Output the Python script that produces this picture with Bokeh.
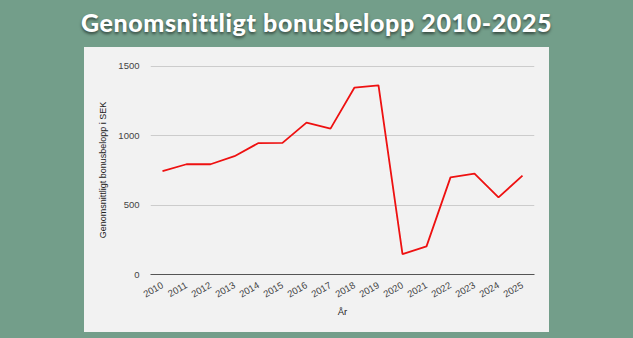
import math
from bokeh.plotting import figure
from bokeh.models import Range1d, FixedTicker, Div, Column
from bokeh.embed import file_html
from bokeh.resources import INLINE

years = [str(y) for y in range(2010, 2026)]
values = [745, 795, 795, 853, 948, 949, 1095, 1052, 1348, 1363, 147, 203, 700, 728, 556, 713]
y_ticks = [0, 500, 1000, 1500]

title_text = "Genomsnittligt bonusbelopp 2010-2025"
y_label = "Genomsnittligt bonusbelopp i SEK"
x_label = "År"

GREEN = "#739e8a"
PANEL = "#f2f2f2"

p = figure(width=465, height=285, x_range=years, y_range=Range1d(0, 1507),
           output_backend="svg", toolbar_location=None,
           min_border_left=66, min_border_right=15,
           min_border_top=18, min_border_bottom=58,
           margin=(0, 84, 6, 84),
           styles={"background-color": PANEL})
p.border_fill_color = PANEL
p.background_fill_color = PANEL
p.outline_line_color = None

p.line(x=years, y=values, line_color="#ee1111", line_width=1.8)

p.xgrid.grid_line_color = None
p.ygrid.grid_line_color = "#cccccc"
p.ygrid.grid_line_width = 1
p.yaxis.ticker = FixedTicker(ticks=y_ticks)

for ax in p.yaxis:
    ax.axis_line_color = None
    ax.major_tick_line_color = None
    ax.minor_tick_line_color = None
    ax.major_label_text_font = "Liberation Sans"
    ax.major_label_text_font_size = "9.5px"
    ax.major_label_text_color = "#444444"
    ax.major_label_standoff = 5
    ax.axis_label = y_label
    ax.axis_label_text_font = "Liberation Sans"
    ax.axis_label_text_font_size = "9px"
    ax.axis_label_text_font_style = "normal"
    ax.axis_label_text_color = "#222222"
    ax.axis_label_standoff = 7

for ax in p.xaxis:
    ax.axis_line_color = "#555555"
    ax.axis_line_width = 1
    ax.major_tick_line_color = None
    ax.minor_tick_line_color = None
    ax.major_label_orientation = math.pi / 6
    ax.major_label_text_font = "Liberation Sans"
    ax.major_label_text_font_size = "9.5px"
    ax.major_label_text_color = "#444444"
    ax.major_label_standoff = 4
    ax.axis_label = x_label
    ax.axis_label_text_font = "Liberation Sans"
    ax.axis_label_text_font_size = "9.5px"
    ax.axis_label_text_font_style = "normal"
    ax.axis_label_text_color = "#222222"
    ax.axis_label_standoff = 3

title = Div(text=title_text, width=633, height=47, margin=0,
            styles={"color": "#ffffff", "font-family": "'Lato Black', 'Lato'", "font-weight": "900",
                    "font-size": "25px", "text-align": "center", "width": "633px",
                    "line-height": "44px", "letter-spacing": "0.6px",
                    "text-shadow": "0px 2px 3px rgba(0,0,0,0.55)"})

layout = Column(children=[title, p], width=633, height=338, spacing=0,
                styles={"background-color": GREEN})

open("out.html", "w").write(file_html(layout, INLINE))
